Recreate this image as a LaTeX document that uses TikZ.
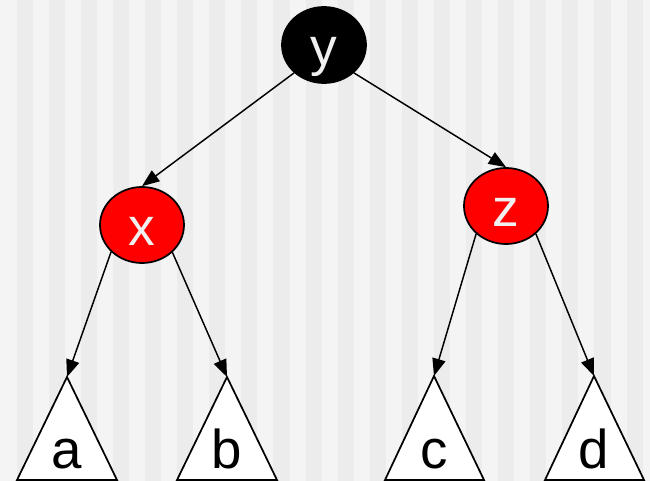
\documentclass[tikz,border=0pt]{standalone}
\usepackage{fontspec}
\setmainfont{Liberation Sans}
\usetikzlibrary{arrows.meta,shapes.geometric}
\definecolor{bglight}{HTML}{F4F4F4}
\definecolor{bgdark}{HTML}{ECECEC}
\definecolor{nodered}{HTML}{FF0000}
\definecolor{txtlight}{HTML}{F0F0F0}
\tikzset{
  rbnode/.style={ellipse,draw=black,line width=1.3pt,minimum width=63pt,minimum height=57pt,inner sep=0pt,
    font=\fontsize{40}{48}\selectfont,text=txtlight,text height=31.5pt,text depth=0pt},
  blacknode/.style={rbnode,fill=black},
  rednode/.style={rbnode,fill=nodered},
  subtree/.style={draw=black,line width=1.3pt,fill=white,line join=miter},
  subtreelabel/.style={anchor=base,inner sep=0pt,font=\fontsize{41}{48}\selectfont,text=black},
  edge/.style={draw=black,line width=1.1pt,-{Triangle[length=13pt,width=10pt]}}
}
\begin{document}
\begin{tikzpicture}[x=0.75pt,y=-0.75pt]
\useasboundingbox (0,0) rectangle (650,481);
\fill[bglight] (0,0) rectangle (650,481);
\foreach \m in {0,...,20}{
  \pgfmathsetmacro{\xa}{16.67+32.1*\m}
  \pgfmathsetmacro{\xb}{\xa+16.05}
  \fill[bgdark] (\xa,0) rectangle (\xb,481);
}
% subtrees
\coordinate (ta) at (67,377);
\coordinate (tb) at (227,377);
\coordinate (tc) at (434,376);
\coordinate (td) at (594,376);
\path[subtree] (ta) -- (17,480) -- (117,480) -- cycle;
\path[subtree] (tb) -- (177,480) -- (277,480) -- cycle;
\path[subtree] (tc) -- (385,480) -- (484,480) -- cycle;
\path[subtree] (td) -- (545,480) -- (644,480) -- cycle;
\node[subtreelabel] (la) at (67,468) {a};
\node[subtreelabel] (lb) at (227,468) {b};
\node[subtreelabel] (lc) at (434,468) {c};
\node[subtreelabel] (ld) at (594,468) {d};
% nodes
\node[blacknode] (y) at (324,45) {y};
\node[rednode] (x) at (142,225) {x};
\node[rednode] (z) at (506,206) {z};
% edges
\draw[edge] (y.223) -- (x.north);
\draw[edge] (y.317) -- (z.north);
\draw[edge] (x.221) -- (ta);
\draw[edge] (x.318) -- (tb);
\draw[edge] (z.223) -- (tc);
\draw[edge] (z.317) -- (td);
\end{tikzpicture}
\end{document}
